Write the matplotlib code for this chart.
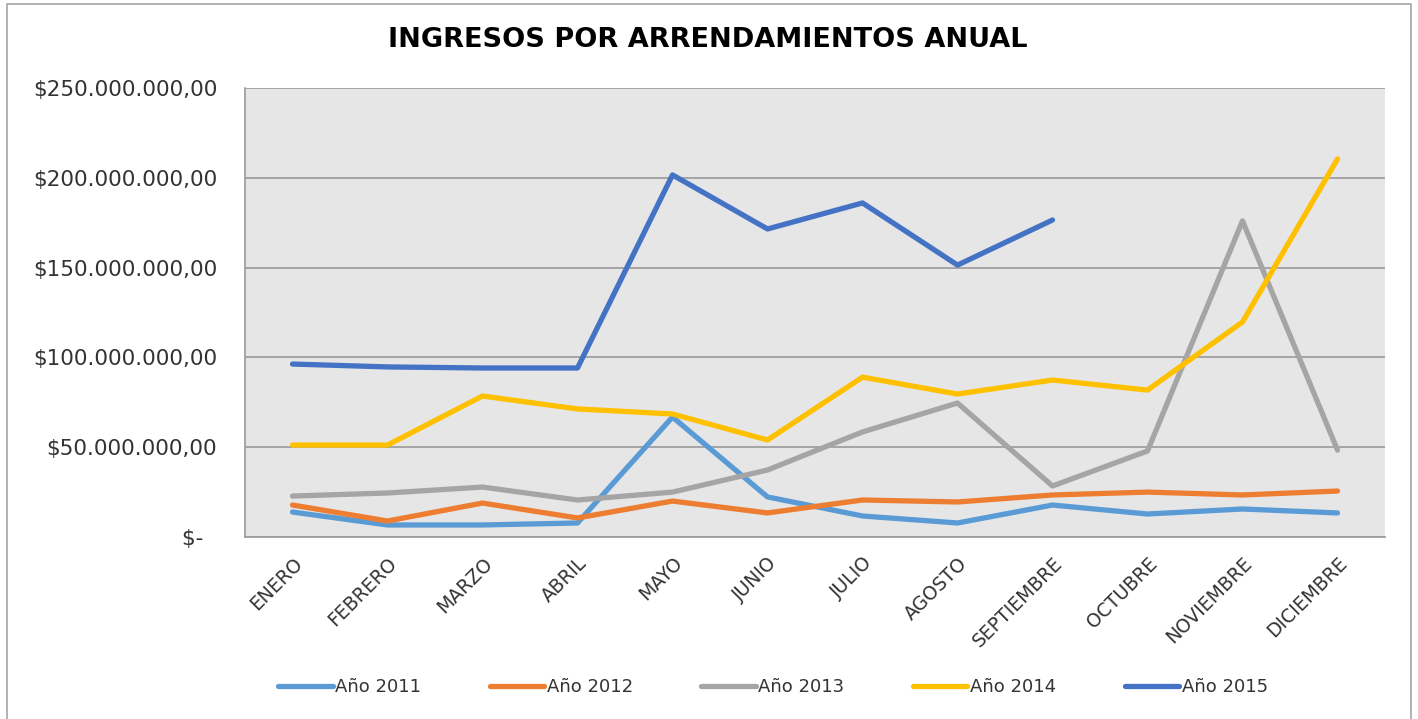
import matplotlib
matplotlib.use("Agg")
import matplotlib.pyplot as plt
from matplotlib.patches import Rectangle

plt.rcParams['font.family'] = ['DejaVu Sans']

months = ["ENERO", "FEBRERO", "MARZO", "ABRIL", "MAYO", "JUNIO", "JULIO",
          "AGOSTO", "SEPTIEMBRE", "OCTUBRE", "NOVIEMBRE", "DICIEMBRE"]

y2011 = [13.9, 6.7, 6.7, 7.8, 66.8, 22.3, 11.7, 7.8, 17.8, 12.8, 15.6, 13.4]
y2012 = [17.8, 8.9, 18.9, 10.6, 20.0, 13.4, 20.6, 19.5, 23.4, 25.0, 23.4, 25.6]
y2013 = [22.8, 24.5, 27.8, 20.6, 25.0, 37.3, 58.5, 74.6, 28.4, 47.9, 176.0, 48.4]
y2014 = [51.2, 51.2, 78.5, 71.3, 68.5, 54.0, 89.0, 79.6, 87.4, 81.8, 119.7, 210.5]
y2015 = [96.3, 94.7, 94.1, 94.1, 201.6, 171.5, 186.0, 151.4, 176.5]

series_names = ["Año 2011", "Año 2012", "Año 2013", "Año 2014", "Año 2015"]
series_values = [y2011, y2012, y2013, y2014, y2015]
colors = ["#5B9BD5", "#ED7D31", "#A5A5A5", "#FFC000", "#4472C4"]

yticks = [0, 50, 100, 150, 200, 250]

def fmt(v):
    if v == 0:
        return "$-  "
    s = f"{v * 1e6:,.2f}"
    s = s.replace(",", "X").replace(".", ",").replace("X", ".")
    return "$" + s

W, H = 1418, 719
fig = plt.figure(figsize=(W / 100, H / 100), dpi=100)
fig.patch.set_facecolor("white")

# outer chart border
fig.add_artist(Rectangle((7 / W, -0.05), (1411 - 7) / W, 1.05 - 4 / H,
                         transform=fig.transFigure, fill=False,
                         edgecolor="#A6A6A6", linewidth=1.2))

ax = fig.add_axes([245 / W, 1 - 537 / H, (1385 - 245) / W, (537 - 88) / H])
ax.set_facecolor("#E6E6E6")

x = list(range(len(months)))
for name, vals, c in zip(series_names, series_values, colors):
    ax.plot(x[:len(vals)], vals, color=c, lw=3.8, label=name,
            solid_capstyle="round", solid_joinstyle="round", zorder=3)

ax.set_xlim(-0.5, len(months) - 0.5)
ax.set_ylim(0, 250)
ax.set_yticks(yticks)
ax.set_yticklabels([fmt(v) for v in yticks], fontsize=15.5, color="#333333")
ax.yaxis.grid(True, color="#9A9A9A", linewidth=1.2, zorder=1)
ax.set_axisbelow(True)

ax.set_xticks(x)
ax.set_xticklabels(months, fontsize=13.5, color="#333333")
plt.setp(ax.get_xticklabels(), rotation=45, ha="right", rotation_mode="anchor")
ax.tick_params(axis="x", length=0, pad=12)
ax.tick_params(axis="y", length=0, pad=20)

for side in ["right", "top"]:
    ax.spines[side].set_visible(False)
for side in ["left", "bottom"]:
    ax.spines[side].set_color("#9A9A9A")
    ax.spines[side].set_linewidth(1.2)

fig.text(708 / W, 1 - 40 / H, "INGRESOS POR ARRENDAMIENTOS ANUAL",
         ha="center", va="center", fontsize=19.5, fontweight="bold", color="black")

leg = fig.legend(loc="center", bbox_to_anchor=(773 / W, 1 - 687 / H), ncol=5,
                 frameon=False, fontsize=13, handlelength=3.0,
                 handletextpad=0.15, columnspacing=3.8)
for t in leg.get_texts():
    t.set_color("#333333")

fig.savefig("out.png", dpi=100)
